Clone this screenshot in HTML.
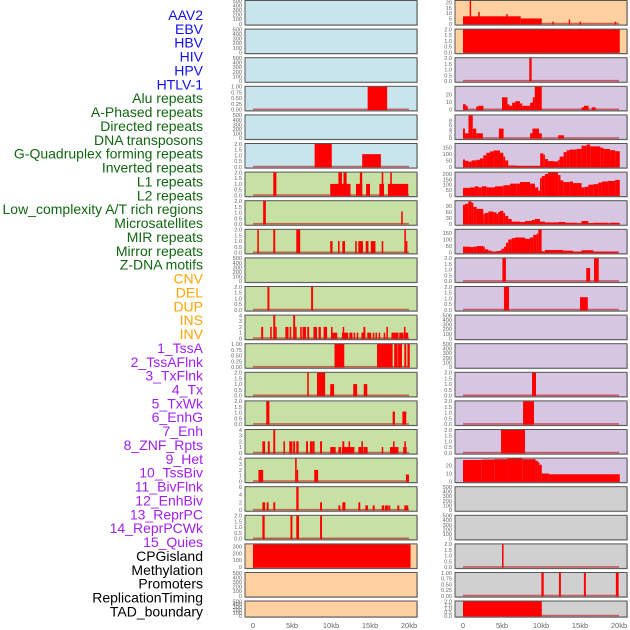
<!DOCTYPE html>
<html><head><meta charset="utf-8">
<style>
html,body{margin:0;padding:0;background:#fff;width:630px;height:630px;overflow:hidden}
svg{display:block;font-family:"Liberation Sans",sans-serif}
</style></head>
<body>
<svg id="chart" width="630" height="630" viewBox="0 0 630 630"></svg>
<script>
// ---------- labels ----------
const trackLabels = ["AAV2","EBV","HBV","HIV","HPV","HTLV-1","Alu repeats","A-Phased repeats","Directed repeats","DNA transposons","G-Quadruplex forming repeats","Inverted repeats","L1 repeats","L2 repeats","Low_complexity A/T rich regions","Microsatellites","MIR repeats","Mirror repeats","Z-DNA motifs","CNV","DEL","DUP","INS","INV","1_TssA","2_TssAFlnk","3_TxFlnk","4_Tx","5_TxWk","6_EnhG","7_Enh","8_ZNF_Rpts","9_Het","10_TssBiv","11_BivFlnk","12_EnhBiv","13_ReprPC","14_ReprPCWk","15_Quies","CPGisland","Methylation","Promoters","ReplicationTiming","TAD_boundary"];
const labelGroups = [6,13,5,15,5];
const groupColors = ["#1010ee","#116611","#ffa500","#a020f0","#000000"];

// ---------- tick label arrays ----------
const ticks500 = ["0","100","200","300","400","500"];
const ticks2 = ["0.0","0.5","1.0","1.5","2.0"];
const ticks1 = ["0.00","0.25","0.50","0.75","1.00"];
const ticks4 = ["0","1","2","3","4"];
const ticks6 = ["0","2","4","6"];
const ticks300 = ["0","100","200","300"];
const ticksAAV = ["0","5","10","15","20"];
const ticks20 = ["0","10","20"];
const ticks8 = ["0","2","4","6","8"];
const ticks150 = ["0","50","100","150"];
const ticks200 = ["0","50","100","150","200"];
const ticks90 = ["0","30","60","90"];
const xTickLabels = ["0","5kb","10kb","15kb","20kb"];
const xTickValues = [0,5,10,15,20];

// ---------- left column data [startKb, endKb, value] ----------
const leftAlu = [[14.7,17.2,1]];
const leftGquad = [[7.9,10.1,2],[14.0,16.4,1.1]];
const leftL1 = [[2.6,3.0,2],[9.9,12.5,1],[10.95,11.4,2],[11.6,12.0,2],[13.2,14.0,1],[13.7,14.0,2],[14.5,15.0,1],[16.2,16.8,1],[16.5,16.7,2],[17.3,19.9,1],[17.6,17.8,2]];
const leftLowComplex = [[1.3,1.65,2],[19.0,19.2,1.1]];
const leftMIR = [[0.55,0.75,2],[2.6,2.85,2],[5.55,6.05,2],[9.9,10.2,1],[10.9,11.1,1],[11.45,11.8,1],[13.1,13.3,1],[13.5,14.1,1],[14.45,14.8,1],[15.1,15.7,1],[16.5,16.7,1],[19.4,19.6,2],[19.6,19.7,1]];
const leftDEL = [[1.85,2.1,2],[7.45,7.7,2]];
const leftINS = [[1.05,1.3,2],[2.2,2.4,2],[2.6,2.85,4],[2.85,3.0,2],[4.15,4.55,2],[4.7,4.9,2],[5.15,5.4,4],[5.4,5.5,2],[6.05,6.25,2],[6.35,6.8,2],[6.95,7.2,2],[7.75,8.2,2],[8.4,8.7,2],[9.05,9.5,2],[10.0,10.2,2],[10.2,10.8,1],[11.4,12.2,1],[11.5,11.65,2],[12.35,12.75,1],[12.9,13.1,1],[13.3,13.5,1],[13.9,14.4,1],[14.15,14.4,2],[14.65,15.15,1],[15.35,15.55,1],[15.7,15.9,1],[16.1,16.3,1],[16.75,16.95,1],[17.1,17.3,2],[17.75,18.65,1],[18.75,19.3,1],[19.35,19.55,2],[19.55,19.9,1]];
const leftTssA = [[10.45,11.7,1],[15.9,17.9,1],[18.1,18.55,1],[18.6,19.1,1],[19.4,19.65,1],[19.8,20.1,1]];
const leftTxFlnk = [[6.95,7.15,2],[8.2,9.25,2],[9.9,10.4,1],[12.85,13.35,1],[14.2,14.65,1]];
const leftTxWk = [[1.7,2.1,2],[17.9,18.2,1.1],[19.15,19.65,1.1]];
const leftEnh = [[1.2,1.55,2],[1.9,2.15,2],[2.6,2.85,4],[3.9,4.1,2],[4.65,5.05,2],[5.15,5.4,2],[5.55,5.85,2],[6.8,7.05,2],[7.3,7.6,2],[7.6,7.9,2],[8.6,8.85,2],[9.9,10.6,1],[10.95,11.3,1],[11.4,13.0,1],[11.45,11.7,2],[12.25,12.45,2],[13.5,14.1,1],[13.9,14.1,2],[14.15,14.7,1],[16.5,16.7,1],[17.55,18.65,1],[17.95,18.15,2],[19.25,19.7,1],[19.4,19.6,2]];
const leftHet = [[0.7,1.3,2],[5.4,5.6,4],[5.6,5.75,2],[7.85,8.35,2],[19.6,20.0,1.2]];
const leftBivFlnk = [[1.2,1.55,2],[1.75,2.0,2],[2.6,2.85,2],[5.55,5.85,6],[8.6,8.85,2],[10.95,11.2,1.2],[11.45,11.85,2],[13.5,13.75,2],[14.4,14.75,1.2],[15.35,15.6,1.2],[16.5,16.8,1.2],[16.9,17.3,1.2],[17.35,17.6,1.2],[18.5,18.75,1.2],[19.4,19.9,1.2]];
const leftReprPC = [[1.2,1.5,2],[4.8,5.05,2],[5.55,5.9,2],[8.6,8.85,2]];
const leftCpG = [[0,20.2,330]];

// ---------- right column data ----------
const rightAAV = [[0,7.4,7],[0.85,1.0,21.5],[1.95,2.1,11],[5.55,5.7,9],[7.4,10.1,5],[11.45,11.6,2],[13.55,13.7,4],[14.95,15.1,2],[19.45,19.6,2]];
const rightEBV = [[0,20.1,2]];
const rightHIV = [[8.5,8.8,2]];
const rightAlu = [[0,0.35,7],[0.35,0.6,5],[1.7,2.6,4],[2.0,2.6,5],[5.0,5.7,16],[5.7,5.95,7],[5.95,6.3,5],[6.3,6.7,9],[6.7,7.3,11],[7.3,7.6,8],[7.6,8.6,5],[8.6,9.2,9],[8.95,9.2,16],[9.2,10.1,30],[15.2,15.6,3],[15.5,16.1,5],[16.5,17.0,3]];
const rightDirected = [[0,0.25,4.3],[0.25,0.7,2.2],[0.7,1.25,10.3],[1.25,1.7,4.3],[1.7,2.55,2.2],[4.6,5.2,4.3],[8.6,8.9,2.2],[8.9,9.75,4.3],[9.75,10.1,2.2],[12.2,12.95,1.3]];
const rightGquadEdges = [0,0.26,0.68,1.1,1.75,2.18,2.6,3.0,3.46,3.9,4.74,5.17,5.4,5.8,6.9,9.9,10.3,10.5,10.9,11.6,12.2,12.4,12.9,13.3,13.7,14.6,15.2,15.85,16.3,17.6,18.0,18.85,19.5,20.1];
const rightGquadValues = [57,47,40,50,55,65,90,110,120,128,110,80,50,10,7,105,95,60,45,42,55,80,115,130,135,140,165,175,160,150,140,130,122];
const rightL1Edges = [0,0.04,0.9,1.54,1.97,2.4,3.03,4.1,5.17,6.03,6.9,7.3,8.6,9.23,9.66,9.87,10.1,10.5,10.9,12.2,12.5,12.86,13.7,14.1,15.2,15.6,16.07,16.7,17.35,17.8,18.6,19.5,20.1];
const rightL1Values = [65,70,75,85,75,85,75,85,95,110,110,125,110,75,45,160,180,200,215,190,140,125,130,115,75,80,100,105,120,130,135,145];
const rightLowEdges = [0,0.26,0.68,1.1,1.32,1.75,2.6,2.8,3.25,3.9,4.3,4.5,4.74,5.17,5.4,5.8,6.24,7.3,7.95,8.8,9.2,9.87,10.5,12.2,13.1,14.6,15.2,16.07,16.7,18.6,18.85,20.1];
const rightLowValues = [95,100,112,105,85,75,50,55,62,58,50,60,65,55,40,25,12,10,15,20,25,12,8,10,6,3,15,4,6,2,6];
const rightMIREdges = [0,0.9,1.32,1.75,2.6,2.8,3.25,3.67,4.3,4.74,4.96,5.26,5.5,5.8,6.24,6.67,7.95,8.6,9.0,9.44,9.66,10.08,10.5,12.86,14.1,15.2,15.85,16.7,19.9];
const rightMIRValues = [45,42,45,50,45,25,15,8,12,18,30,45,75,100,110,115,105,115,135,145,175,10,20,15,8,18,18,8];
const rightZDNA = [[5.05,5.5,2],[15.8,16.3,1.15],[16.8,17.4,2]];
const rightDEL = [[5.25,5.9,2],[15.0,16.0,1.1]];
const rightTxFlnk = [[8.85,9.36,2]];
const rightTxWk = [[7.7,9.1,2]];
const rightEnh = [[4.87,7.95,2]];
const rightHetEdges = [0,2.4,4.0,5.7,7.6,9.3,9.6,9.8,10.1,11.0,20.1];
const rightHetValues = [27,27.5,28,29,28,26,24,21,10,9];
const rightCpG = [[5.0,5.2,2]];
const rightPromoters = [[10.05,10.35,1],[12.3,12.55,1],[15.5,15.75,1],[19.6,19.95,1]];
const rightTAD = [[0,10.1,2]];

function profile(edges, vals){
  const s=[];
  for(let i=0;i<vals.length;i++) s.push([edges[i],edges[i+1],vals[i]]);
  return s;
}

const BG = {blue:"#c8e4ec", green:"#c7e1a5", peach:"#ffd09f", lav:"#d6c6e2", gray:"#d0d0d0"};
const leftPanels = [
  {name:"aav2",bg:"blue",ticks:ticks500,ymax:500,segs:[]},
  {name:"ebv",bg:"blue",ticks:ticks500,ymax:500,segs:[]},
  {name:"hiv",bg:"blue",ticks:ticks500,ymax:500,segs:[]},
  {name:"alu",bg:"blue",ticks:ticks1,ymax:1,segs:leftAlu},
  {name:"directed",bg:"blue",ticks:ticks500,ymax:500,segs:[]},
  {name:"gquad",bg:"blue",ticks:ticks2,ymax:2,segs:leftGquad},
  {name:"l1",bg:"green",ticks:ticks2,ymax:2,segs:leftL1},
  {name:"low-complexity",bg:"green",ticks:ticks2,ymax:2,segs:leftLowComplex},
  {name:"mir",bg:"green",ticks:ticks2,ymax:2,segs:leftMIR},
  {name:"zdna",bg:"green",ticks:ticks500,ymax:500,segs:[]},
  {name:"del",bg:"green",ticks:ticks2,ymax:2,segs:leftDEL},
  {name:"ins",bg:"green",ticks:ticks4,ymax:4,segs:leftINS},
  {name:"tssa",bg:"green",ticks:ticks1,ymax:1,segs:leftTssA},
  {name:"txflnk",bg:"green",ticks:ticks2,ymax:2,segs:leftTxFlnk},
  {name:"txwk",bg:"green",ticks:ticks2,ymax:2,segs:leftTxWk},
  {name:"enh",bg:"green",ticks:ticks4,ymax:4,segs:leftEnh},
  {name:"het",bg:"green",ticks:ticks4,ymax:4,segs:leftHet},
  {name:"bivflnk",bg:"green",ticks:ticks6,ymax:6,segs:leftBivFlnk},
  {name:"reprpc",bg:"green",ticks:ticks2,ymax:2,segs:leftReprPC},
  {name:"cpgisland",bg:"peach",ticks:ticks300,ymax:330,segs:leftCpG},
  {name:"promoters",bg:"peach",ticks:ticks500,ymax:500,segs:[]},
  {name:"tad",bg:"peach",ticks:ticks500,ymax:500,segs:[]}
];
const rightPanels = [
  {name:"aav2",bg:"peach",ticks:ticksAAV,ymax:21.5,segs:rightAAV},
  {name:"ebv",bg:"peach",ticks:ticks2,ymax:2,segs:rightEBV},
  {name:"hiv",bg:"lav",ticks:ticks2,ymax:2,segs:rightHIV},
  {name:"alu",bg:"lav",ticks:ticks20,ymax:30,segs:rightAlu},
  {name:"directed",bg:"lav",ticks:ticks8,ymax:10.3,segs:rightDirected},
  {name:"gquad",bg:"lav",ticks:ticks150,ymax:180,segs:profile(rightGquadEdges,rightGquadValues)},
  {name:"l1",bg:"lav",ticks:ticks200,ymax:215,segs:profile(rightL1Edges,rightL1Values)},
  {name:"low-complexity",bg:"lav",ticks:ticks90,ymax:114,segs:profile(rightLowEdges,rightLowValues)},
  {name:"mir",bg:"lav",ticks:ticks150,ymax:175,segs:profile(rightMIREdges,rightMIRValues)},
  {name:"zdna",bg:"lav",ticks:ticks2,ymax:2,segs:rightZDNA},
  {name:"del",bg:"lav",ticks:ticks2,ymax:2,segs:rightDEL},
  {name:"ins",bg:"lav",ticks:ticks500,ymax:500,segs:[]},
  {name:"tssa",bg:"lav",ticks:ticks500,ymax:500,segs:[]},
  {name:"txflnk",bg:"lav",ticks:ticks2,ymax:2,segs:rightTxFlnk},
  {name:"txwk",bg:"lav",ticks:ticks2,ymax:2,segs:rightTxWk},
  {name:"enh",bg:"lav",ticks:ticks2,ymax:2,segs:rightEnh},
  {name:"het",bg:"lav",ticks:ticks20,ymax:29,segs:profile(rightHetEdges,rightHetValues)},
  {name:"bivflnk",bg:"gray",ticks:ticks500,ymax:500,segs:[]},
  {name:"reprpc",bg:"gray",ticks:ticks500,ymax:500,segs:[]},
  {name:"cpgisland",bg:"gray",ticks:ticks2,ymax:2,segs:rightCpG},
  {name:"promoters",bg:"gray",ticks:ticks1,ymax:1,segs:rightPromoters},
  {name:"tad",bg:"gray",ticks:ticks2,ymax:2,segs:rightTAD}
];

const NS="http://www.w3.org/2000/svg";
const svg=document.getElementById("chart");
function mk(tag, attrs, parent){
  const e=document.createElementNS(NS,tag);
  for(const k in attrs) e.setAttribute(k,attrs[k]);
  (parent||svg).appendChild(e);
  return e;
}

// labels
let li=0;
labelGroups.forEach((n,g)=>{
  for(let j=0;j<n;j++){
    const t=mk("text",{x:203,y:15+li*13.87+5,"text-anchor":"end","font-size":"14",fill:groupColors[g]});
    t.textContent=trackLabels[li];
    
    
    li++;
  }
});

function rowGeom(r){
  if(r===21) return {top:601,h:16};
  return {top:r*28.6+0.5,h:24.5};
}

function drawColumn(panels, px, side){
  const pw=172;
  const x0=px+8, x1=px+164; // 0kb and 20kb
  const xs=kb=>x0+(x1-x0)*kb/20;
  panels.forEach((p,r)=>{
    const g=rowGeom(r);
    const grp=mk("g",{});
    
    
    mk("rect",{x:px+1,y:g.top+1,width:pw,height:g.h,fill:"#999","fill-opacity":"0.5"},grp);
    const bg=mk("rect",{x:px,y:g.top,width:pw,height:g.h,fill:BG[p.bg]},grp);
    
    
    const ybot=g.top+g.h-1.2, ytop=g.top+0.3;
    const ys=v=>ybot-(ybot-ytop)*Math.min(v,p.ymax)/p.ymax;
    // ticks
    const nt=p.ticks.length;
    const tmax=parseFloat(p.ticks[nt-1]);
    p.ticks.forEach((tl,i)=>{
      const v=parseFloat(tl);
      const t=mk("text",{x:px-3,y:ys(v)+2,"text-anchor":"end","font-size":"5.6",fill:"#666"},grp);
      t.textContent=tl;
      
      
    });
    if(p.segs.length){
      const bl=mk("line",{x1:xs(0),x2:xs(20),y1:ybot-0.3,y2:ybot-0.3,stroke:"#c00000","stroke-opacity":"0.55","stroke-width":"1.6"},grp);
      
      
    }
    p.segs.forEach(s=>{
      const xa=xs(s[0]), xb=xs(s[1]);
      const w=Math.max(xb-xa,1.5);
      const y=ys(s[2]);
      const b=mk("rect",{x:xa,y:y,width:w,height:ybot-y+0.5,fill:"#ff0000"},grp);
      
      
    });
    const fr=mk("rect",{x:px,y:g.top,width:pw,height:g.h,fill:"none",stroke:"#555","stroke-width":"1"},grp);
    
    
  });
  xTickValues.forEach((v,i)=>{
    const t=mk("text",{x:xs(v),y:628,"text-anchor":"middle","font-size":"7.5",fill:"#666"});
    t.textContent=xTickLabels[i];
    
    
  });
}
drawColumn(leftPanels,245,"left");
drawColumn(rightPanels,455,"right");
</script>
</body></html>
